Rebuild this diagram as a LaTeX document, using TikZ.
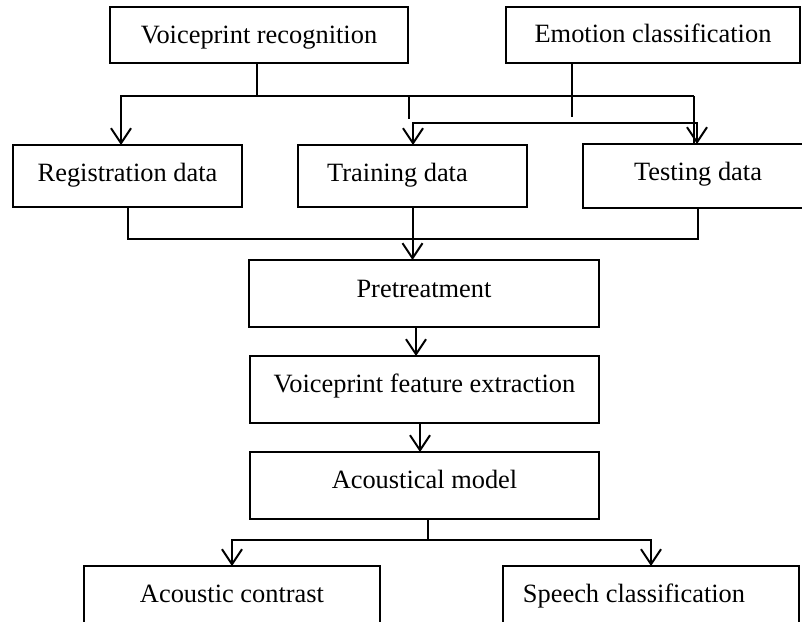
\documentclass[tikz,border=0pt]{standalone}
\usepackage{fontspec}
\setmainfont{Liberation Serif}
\usetikzlibrary{arrows.meta}
\tikzset{
  box/.style={draw, line width=1.8pt, rectangle, inner sep=0pt, outer sep=0pt,
    font=\fontsize{26.4}{30}\selectfont, text depth=0pt},
  ln/.style={line width=2pt},
  stub/.style={line width=1.3pt},
  tip/.style={-{Straight Barb[length=15pt,width=20pt]}},
  tips/.style={{Straight Barb[length=15pt,width=20pt]}-{Straight Barb[length=15pt,width=20pt]}},
}
\begin{document}
\begin{tikzpicture}[x=1pt,y=-1pt]
\useasboundingbox (0,0) rectangle (802,621);
\clip (0,0) rectangle (802,621);
% boxes
\node[box, minimum width=298pt, minimum height=56pt, text height=16pt] (vr) at (259,35) {Voiceprint recognition};
\node[box, minimum width=294pt, minimum height=56pt, text height=15pt] (ec) at (653,35) {Emotion classification};
\node[box, minimum width=229pt, minimum height=62pt, text height=10pt] (reg) at (127.5,176) {Registration data};
\node[box, minimum width=229pt, minimum height=62pt, text height=11pt] (train) at (412.5,176) {Training data\hspace*{30pt}};
\node[box, minimum width=230pt, minimum height=64pt, text height=8pt] (test) at (698,176) {Testing data};
\node[box, minimum width=350pt, minimum height=67pt, text height=7pt] (pre) at (424,293.5) {Pretreatment};
\node[box, minimum width=349pt, minimum height=67pt, text height=5pt] (vfe) at (424.5,389.5) {Voiceprint feature extraction};
\node[box, minimum width=349pt, minimum height=67pt, text height=5pt] (am) at (424.5,485.5) {Acoustical model};
\node[box, minimum width=296pt, minimum height=72pt, text height=0pt] (ac) at (232,602) {Acoustic contrast};
\node[box, minimum width=296pt, minimum height=72pt, text height=0pt] (sc) at (651,602) {Speech classification\hspace*{34pt}};
% levels and columns
\coordinate (h1) at (0,96);
\coordinate (h2) at (0,123);
\coordinate (ht) at (0,119);
\coordinate (he) at (0,117);
\coordinate (h3) at (0,239);
\coordinate (h4) at (0,540);
\coordinate (xv) at (257,0);
\coordinate (xa) at (121,0);
\coordinate (xb) at (694,0);
\coordinate (xt) at (409,0);
\coordinate (xe) at (572,0);
\coordinate (xl) at (413,0);
\coordinate (xr) at (697,0);
\coordinate (xp) at (416,0);
\coordinate (xq) at (420,0);
\coordinate (xm) at (428,0);
% connectors
\draw[stub] (vr.south -| xv) -- (xv |- h1);
\draw[ln, tip] (xb |- h1) -- (xa |- h1) -- (xa |- reg.north);
\draw[ln] (xb |- h1) -- (xb |- test.north);
\draw[stub] (xt |- h1) -- (xt |- ht);
\draw[stub] (ec.south -| xe) -- (xe |- he);
\draw[ln, tips] (xl |- train.north) -- (xl |- h2) -- (xr |- h2) -- (xr |- test.north);
\draw[ln] (reg.south) -- (reg.south |- h3) -- (test.south |- h3) -- (test.south);
\draw[ln, tip] (train.south) -- (pre.north -| train.south);
\draw[ln, tip] (pre.south -| xp) -- (vfe.north -| xp);
\draw[ln, tip] (vfe.south -| xq) -- (am.north -| xq);
\draw[stub] (am.south -| xm) -- (xm |- h4);
\draw[ln, tips] (ac.north) -- (ac.north |- h4) -- (sc.north |- h4) -- (sc.north);
\end{tikzpicture}
\end{document}
